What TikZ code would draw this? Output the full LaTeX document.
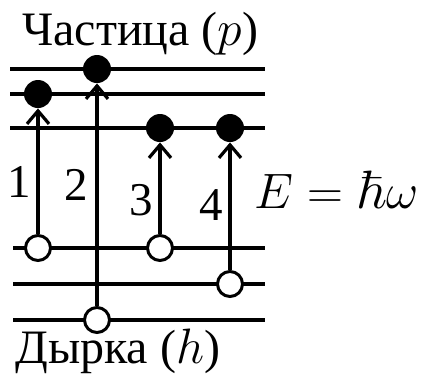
\documentclass[tikz,border=0pt]{standalone}
\usepackage[no-math]{fontspec}
\setmainfont{Liberation Serif}
\usepackage{amssymb}
\usetikzlibrary{positioning, arrows.meta}

\begin{document}
\begin{tikzpicture}[x=0.5pt, y=-0.5pt]
      % Define styles for levels, carriers and labels
      \tikzset{
        level/.style={line width=2pt},
        particle/.style={circle, fill=black, minimum size=14pt, inner sep=0pt},
        hole/.style={circle, draw, fill=white, line width=1.5pt, minimum size=12.5pt, inner sep=0pt},
        jump/.style={line width=2pt, -{Straight Barb[length=6.5pt, width=11pt, line width=1.6pt]}},
        number/.style={font=\fontsize{23.5}{24}\selectfont, inner sep=0pt},
        caption/.style={font=\fontsize{24}{26}\selectfont, inner sep=0pt}
      }
      \useasboundingbox (0,0) rectangle (429,377);

      % Energy levels
      \foreach \y in {69, 94, 128}
        \draw[level] (10,\y) -- (265,\y);
      \foreach \y in {248, 284, 320}
        \draw[level] (13,\y) -- (265,\y);

      % Particles (filled) and holes (open)
      \node[particle] (p1) at (38,94) {};
      \node[particle] (p2) at (97,69) {};
      \node[particle] (p3) at (160,128) {};
      \node[particle] (p4) at (230,128) {};

      \node[hole] (h1) at (38,248) {};
      \node[hole] (h2) at (97,320) {};
      \node[hole] (h3) at (160,248) {};
      \node[hole] (h4) at (230,284) {};

      % Transitions
      \draw[jump] (h1) -- (p1);
      \draw[jump] (h2) -- (p2);
      \draw[jump] (h3) -- (p3);
      \draw[jump] (h4) -- (p4);

      % Transition numbers
      \node[number] (n1) at (19,182) {1};
      \node[number] (n2) at (76,185) {2};
      \node[number] (n3) at (141,200) {3};
      \node[number] (n4) at (211,205) {4};

      % Captions
      \node[caption, anchor=base west] (top) at (22,45) {Частица ($p$)};
      \node[caption, anchor=base west] (bottom) at (15,363) {Дырка ($h$)};
      \node[caption, anchor=base west, font=\fontsize{27}{29}\selectfont] (energy) at (254,208) {$E=\hbar\omega$};
    \end{tikzpicture}
\end{document}
